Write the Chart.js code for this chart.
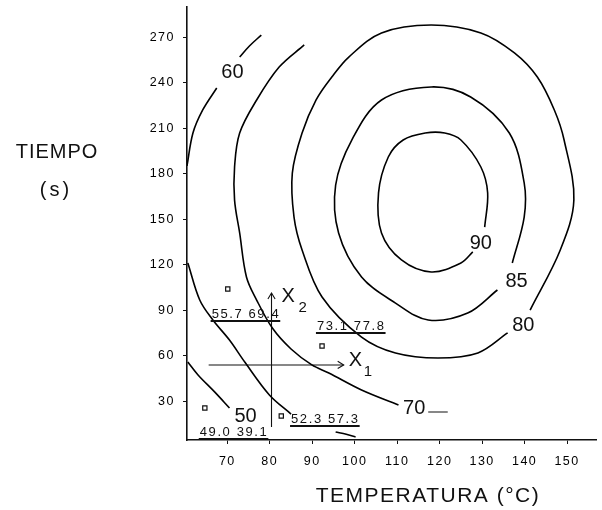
<!DOCTYPE html>
<html>
<head>
<meta charset="utf-8">
<script src="https://cdn.jsdelivr.net/npm/chart.js@4"></script>
<style>
  html, body { margin: 0; padding: 0; background: #fff; }
  canvas { display: block; }
</style>
</head>
<body>
<canvas id="c" width="602" height="510"></canvas>
<script>
// Axis ticks
const tempTicks = [70, 80, 90, 100, 110, 120, 130, 140, 150];
const timeTicks = [30, 60, 90, 120, 150, 180, 210, 240, 270];

// Response contours: [temperature °C, time s]
const contour50 = [[60.7, 55.9], [63.1, 47.4], [67.0, 36.2], [70.5, 25.6]];
const contour60Top = [[60.5, 185.2], [61.9, 206.9], [64.2, 222.1], [67.5, 236.6]];
const contour60TopEnd = [[72.9, 257.0], [75.2, 264.3], [78.0, 271.5]];
const contour60Low = [[60.7, 121.2], [63.5, 96.8], [66.6, 83.6], [70.5, 70.4], [74.1, 55.9], [79.9, 34.2], [85.0, 21.6]];
const contour60LowEnd = [[95.5, 9.8], [98.0, 8.3], [100.2, 6.5]];
const contour70 = [[88.1, 265.0], [82.2, 250.4], [76.9, 228.7], [72.9, 206.9], [71.7, 184.5], [71.7, 162.7],
  [72.9, 141.0], [74.5, 112.0], [76.9, 96.8], [80.6, 78.3], [85.0, 64.5], [89.9, 54.0], [93.9, 48.7],
  [101.6, 37.5], [110.3, 27.6]];
const contour70End = [[117.3, 23.0], [121.9, 23.0]];
const contour80 = [[141.3, 90.2], [148.4, 129.8], [151.6, 162.7], [149.3, 202.3], [147.0, 222.1], [143.0, 243.8],
  [137.6, 259.7], [129.7, 272.9], [118.0, 278.1], [106.3, 272.9], [98.6, 257.0], [94.6, 243.8], [90.9, 228.7],
  [87.6, 206.9], [85.3, 180.5], [85.7, 151.5], [87.6, 129.8], [92.3, 98.8], [101.6, 72.4], [109.6, 61.9],
  [119.6, 58.6], [129.0, 61.9], [136.0, 75.1]];
const contour85 = [[137.1, 121.2], [139.9, 151.5], [139.9, 174.0], [136.4, 206.9], [127.3, 230.7], [118.0, 237.3],
  [106.3, 228.7], [99.3, 202.3], [95.5, 172.6], [96.2, 141.0], [101.6, 112.0], [109.6, 94.8], [117.3, 83.6],
  [126.6, 88.2], [133.6, 103.4]];
const contour90 = [[130.6, 144.9], [131.3, 167.4], [129.7, 184.5], [125.0, 202.3], [121.2, 206.9], [116.6, 206.9],
  [111.4, 202.3], [107.9, 191.1], [105.6, 167.4], [106.3, 141.0], [111.0, 123.2], [118.0, 115.3], [125.0, 121.2],
  [127.8, 128.5]];

// Contour level labels and where they sit
const levelValues = [50, 60, 70, 80, 85, 90];
const levelAt = [[74.3, 20.3], [71.2, 246.5], [114.0, 25.6], [139.7, 79.7], [138.1, 108.7], [129.7, 134.4]];

// Experimental runs and their (observed, predicted) yields
const runPoints = [[64.7, 25.6], [82.7, 20.3], [92.3, 66.5], [70.1, 104.1]];
const runNotes = ['49.0 39.1', '52.3 57.3', '73.1 77.8', '55.7 69.4'];
const runNoteAt = [[63.5, 7.1], [85.0, 15.7], [91.1, 77.0], [66.3, 85.0]];

// Coded factor axes X1 (temperature) and X2 (time)
const axisX1 = [[65.6, 54.0], [97.4, 54.0]];
const axisX2 = [[80.4, 13.1], [80.4, 101.4]];

const pts = a => a.map(([x, y]) => ({ x, y }));
const curve = a => ({
  data: pts(a), showLine: true, borderColor: '#000', borderWidth: 1.6,
  pointRadius: 0, tension: 0.35, fill: false
});
const straight = a => ({
  data: pts(a), showLine: true, borderColor: '#111', borderWidth: 1.1,
  pointRadius: 0, tension: 0, fill: false
});

const FONT = '"Liberation Sans", Arial, sans-serif';

const overlay = {
  id: 'overlay',
  beforeDraw(chart) {
    chart.ctx.letterSpacing = '1.5px';
  },
  afterDatasetsDraw(chart) {
    const { ctx, scales: { x, y } } = chart;
    const px = v => x.getPixelForValue(v);
    const py = v => y.getPixelForValue(v);
    ctx.save();
    ctx.fillStyle = '#111';
    ctx.strokeStyle = '#111';

    // contour levels
    ctx.letterSpacing = '0px';
    ctx.font = '20px ' + FONT;
    ctx.textAlign = 'center';
    ctx.textBaseline = 'middle';
    levelValues.forEach((v, i) => ctx.fillText(String(v), px(levelAt[i][0]), py(levelAt[i][1])));

    // run annotations, underlined
    ctx.font = '13px ' + FONT;
    ctx.letterSpacing = '1.6px';
    ctx.textAlign = 'left';
    ctx.textBaseline = 'alphabetic';
    ctx.lineWidth = 2;
    runNotes.forEach((t, i) => {
      const lx = px(runNoteAt[i][0]), ly = py(runNoteAt[i][1]);
      ctx.fillText(t, lx, ly);
      const w = ctx.measureText(t).width;
      ctx.beginPath();
      ctx.moveTo(lx - 1, ly + 3);
      ctx.lineTo(lx + w, ly + 3);
      ctx.stroke();
    });

    // arrowheads on coded axes
    ctx.lineWidth = 1.1;
    const h = 6;
    const e1x = px(axisX1[1][0]), e1y = py(axisX1[1][1]);
    ctx.beginPath();
    ctx.moveTo(e1x - h, e1y - h * 0.6); ctx.lineTo(e1x, e1y); ctx.lineTo(e1x - h, e1y + h * 0.6);
    ctx.stroke();
    const e2x = px(axisX2[1][0]), e2y = py(axisX2[1][1]);
    ctx.beginPath();
    ctx.moveTo(e2x - h * 0.6, e2y + h); ctx.lineTo(e2x, e2y); ctx.lineTo(e2x + h * 0.6, e2y + h);
    ctx.stroke();

    // axis names X1, X2
    ctx.letterSpacing = '0px';
    ctx.textAlign = 'left';
    ctx.textBaseline = 'middle';
    ctx.font = '20px ' + FONT;
    ctx.fillText('X', e1x + 5, e1y - 4);
    ctx.fillText('X', e2x + 10, e2y + 3);
    ctx.font = '15px ' + FONT;
    ctx.fillText('1', e1x + 20, e1y + 7);
    ctx.fillText('2', e2x + 27, e2y + 15);

    // axis titles
    ctx.textAlign = 'center';
    ctx.font = '21px ' + FONT;
    ctx.letterSpacing = '1.5px';
    ctx.fillText('TEMPERATURA (°C)', 428, 496);
    ctx.font = '20px ' + FONT;
    ctx.letterSpacing = '1px';
    ctx.fillText('TIEMPO', 57, 152);
    ctx.letterSpacing = '3px';
    ctx.fillText('(s)', 56, 190);
    ctx.restore();
  }
};

const axisCommon = {
  type: 'linear',
  grid: { drawOnChartArea: false, drawTicks: true, tickLength: 4, color: '#111', lineWidth: 1 },
  border: { display: true, color: '#111', width: 1.6 },
  title: { display: false }
};

new Chart(document.getElementById('c'), {
  type: 'scatter',
  data: {
    datasets: [
      curve(contour50), curve(contour60Top), curve(contour60TopEnd), curve(contour60Low), curve(contour60LowEnd),
      curve(contour70), straight(contour70End), curve(contour80), curve(contour85), curve(contour90),
      straight(axisX1), straight(axisX2),
      {
        data: pts(runPoints), showLine: false, pointStyle: 'rect', pointRadius: 3,
        borderColor: '#111', borderWidth: 1.2, backgroundColor: '#fff'
      }
    ]
  },
  options: {
    responsive: false,
    animation: false,
    devicePixelRatio: 1,
    layout: { padding: { left: 0, right: 2, top: 7, bottom: 0 } },
    plugins: { legend: { display: false }, tooltip: { enabled: false } },
    scales: {
      x: {
        ...axisCommon,
        min: 60.5, max: 157,
        afterBuildTicks: s => { s.ticks = tempTicks.map(v => ({ value: v })); },
        afterFit: s => { s.height = 70; s.paddingLeft = 0; s.paddingRight = 0; },
        ticks: { color: '#000', font: { family: FONT, size: 12.5 }, padding: 10, maxRotation: 0, autoSkip: false }
      },
      y: {
        ...axisCommon,
        min: 4.5, max: 290,
        afterBuildTicks: s => { s.ticks = timeTicks.map(v => ({ value: v })); },
        afterFit: s => { s.width = 187; s.paddingTop = 0; s.paddingBottom = 0; },
        ticks: { color: '#000', font: { family: FONT, size: 12.5 }, padding: 8, autoSkip: false }
      }
    }
  },
  plugins: [overlay]
});
</script>
</body>
</html>
